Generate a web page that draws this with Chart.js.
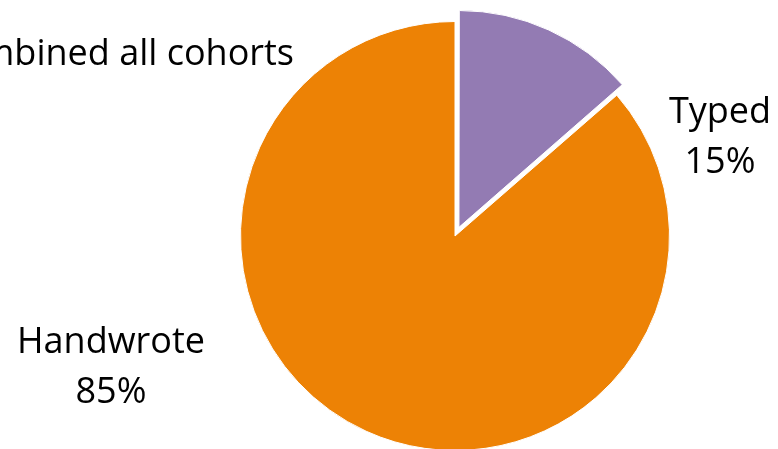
<!DOCTYPE html>
<html>
<head>
<meta charset="utf-8">
<script src="https://cdn.jsdelivr.net/npm/chart.js@4.4.0/dist/chart.umd.min.js"></script>
<style>
  html, body { margin: 0; padding: 0; background: #fff; overflow: hidden; }
  #wrap { width: 778px; height: 449px; overflow: hidden; }
</style>
</head>
<body>
<div id="wrap"><canvas id="pieChart" width="778" height="470"></canvas></div>
<script>
const titleText = "Combined all cohorts";
const categories = ["Typed", "Handwrote"];
// slice sizes as drawn (the purple wedge spans ~49 degrees)
const shares = [13.6, 86.4];
// percentages as printed on the chart
const shareLabels = ["15%", "85%"];
const sliceColors = ["#937BB3", "#ED8205"];
// Chart.js moves a slice by roughly offset/3, so 38 gives the ~12px pull-out
const sliceOffsets = [38, 0];

// labels drawn next to the slices, plus the clipped title
const textPlugin = {
    id: "pieText",
    afterDraw(chart) {
        const ctx = chart.ctx;
        ctx.save();
        ctx.fillStyle = "#000";
        ctx.font = "36px 'Open Sans'";
        ctx.textBaseline = "alphabetic";

        ctx.textAlign = "right";
        ctx.fillText(titleText, 294, 65);

        ctx.textAlign = "center";
        const spots = [[720, 123], [111, 353]];
        categories.forEach((name, i) => {
            const [x, y] = spots[i];
            ctx.fillText(name, x, y);
            ctx.fillText(shareLabels[i], x, y + 50);
        });
        ctx.restore();
    }
};

new Chart(document.getElementById("pieChart"), {
    type: "pie",
    data: {
        labels: categories,
        datasets: [{
            data: shares,
            backgroundColor: sliceColors,
            borderColor: "#ffffff",
            borderWidth: 1,
            offset: sliceOffsets
        }]
    },
    options: {
        responsive: false,
        animation: false,
        layout: { padding: { left: 132, right: 0, top: 2, bottom: 0 } },
        plugins: {
            legend: { display: false },
            title: { display: false },
            tooltip: { enabled: false }
        }
    },
    plugins: [textPlugin]
});
</script>
</body>
</html>
